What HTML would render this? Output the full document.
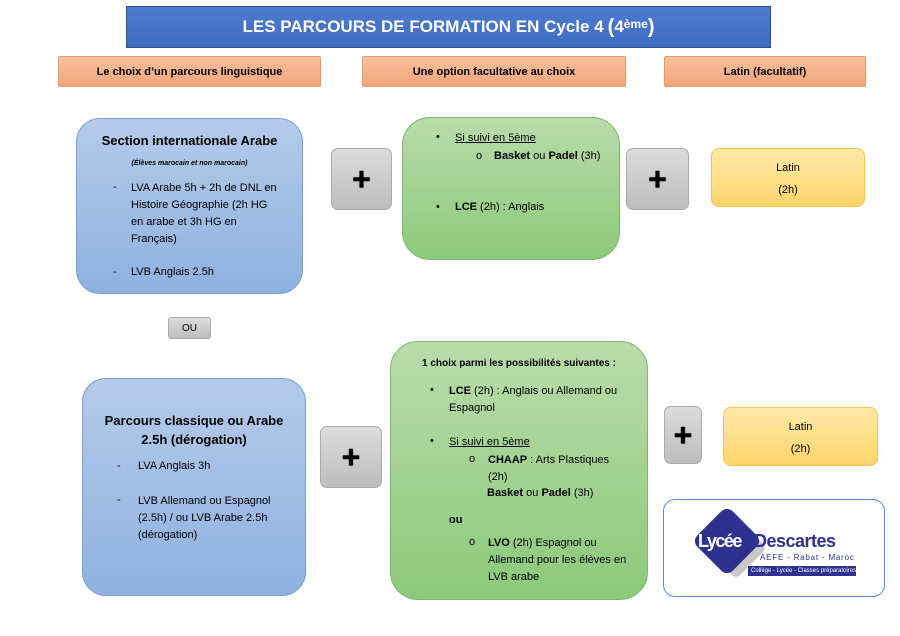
<!DOCTYPE html>
<html><head><meta charset="utf-8"><style>
*{margin:0;padding:0;box-sizing:border-box}
body{width:900px;height:636px;background:#fff;position:relative;overflow:hidden;font-family:"Liberation Sans",sans-serif;color:#000}
.a{position:absolute}
.t{position:absolute;white-space:nowrap;font-size:11px;line-height:14px}
.title{left:126px;top:6px;width:645px;height:42px;background:linear-gradient(#4d7bd0,#3f6cc0);border:1px solid #2f528f;color:#fff;font-weight:bold;font-size:17px;display:flex;align-items:center;justify-content:center}
.or{top:56px;height:31px;background:linear-gradient(#f8c09a,#f4a57c);border:1px solid #e89a6b;font-size:11px;font-weight:bold;display:flex;align-items:center;justify-content:center;border-radius:2px}
.blue{background:linear-gradient(#b4cbea,#8fb1e0);border:1px solid #7ba0d4;border-radius:24px}
.green{background:linear-gradient(#b9dcab,#8cc97a);border:1px solid #7ab86a;border-radius:28px}
.plus{background:linear-gradient(#dcdcdc,#bdbdbd);border:1px solid #aaa;border-radius:7px;display:flex;align-items:center;justify-content:center;font-size:32px;font-weight:bold;text-shadow:0 0 1px #000,0 0 1px #000}
.yel{background:linear-gradient(#ffe9a8,#ffd56a);border:1px solid #f0c458;border-radius:8px;font-size:11px;text-align:center}
b{font-weight:bold}
u{text-decoration:underline}
</style></head><body>
<div class="a title">LES PARCOURS DE FORMATION EN Cycle 4 <span style="font-size:20px;margin-left:4px">(</span>4<sup style="font-size:12px;position:relative;top:-3px">ème</sup><span style="font-size:20px">)</span></div>
<div class="a or" style="left:58px;width:263px">Le choix d’un parcours linguistique</div>
<div class="a or" style="left:362px;width:264px">Une option facultative au choix</div>
<div class="a or" style="left:664px;width:202px">Latin (facultatif)</div>

<div class="a blue" style="left:76px;top:118px;width:227px;height:176px"></div>
<div class="t" style="left:76px;width:227px;text-align:center;top:134px;font-size:13px;font-weight:bold">Section internationale Arabe</div>
<div class="t" style="left:76px;width:227px;text-align:center;top:157px;font-size:7px;font-style:italic;font-weight:bold">(Élèves marocain et non marocain)</div>
<div class="t" style="left:113px;top:180px">-</div>
<div class="t" style="left:131px;top:180px;line-height:17px">LVA Arabe 5h + 2h de DNL en<br>Histoire Géographie (2h HG<br>en arabe et 3h HG en<br>Français)</div>
<div class="t" style="left:113px;top:265px">-</div>
<div class="t" style="left:131px;top:265px">LVB Anglais 2.5h</div>

<div class="a plus" style="left:331px;top:148px;width:61px;height:62px">+</div>
<div class="a green" style="left:402px;top:117px;width:218px;height:143px"></div>
<div class="t" style="left:436px;top:130px">•</div>
<div class="t" style="left:455px;top:131px"><u>Si suivi en 5ème</u></div>
<div class="t" style="left:476px;top:149px">o</div>
<div class="t" style="left:494px;top:149px"><b>Basket</b> ou <b>Padel</b> (3h)</div>
<div class="t" style="left:436px;top:200px">•</div>
<div class="t" style="left:455px;top:200px"><b>LCE</b> (2h) : Anglais</div>
<div class="a plus" style="left:626px;top:148px;width:63px;height:62px">+</div>
<div class="a yel" style="left:711px;top:148px;width:154px;height:59px;padding-top:8px;line-height:22px">Latin<br>(2h)</div>

<div class="a plus" style="left:168px;top:317px;width:43px;height:22px;font-size:10px;font-weight:normal;border-radius:3px;text-shadow:none">OU</div>

<div class="a blue" style="left:82px;top:378px;width:224px;height:218px"></div>
<div class="t" style="left:82px;width:224px;text-align:center;top:411px;font-size:13px;font-weight:bold;line-height:19px">Parcours classique ou Arabe<br>2.5h (dérogation)</div>
<div class="t" style="left:117px;top:459px">-</div>
<div class="t" style="left:138px;top:459px">LVA Anglais 3h</div>
<div class="t" style="left:117px;top:493px">-</div>
<div class="t" style="left:138px;top:493px;line-height:17px">LVB Allemand ou Espagnol<br>(2.5h) / ou LVB Arabe 2.5h<br>(dérogation)</div>

<div class="a plus" style="left:320px;top:426px;width:62px;height:62px">+</div>
<div class="a green" style="left:390px;top:341px;width:258px;height:259px"></div>
<div class="t" style="left:422px;top:357px;font-size:10px;font-weight:bold">1 choix parmi les possibilités suivantes :</div>
<div class="t" style="left:430px;top:383px">•</div>
<div class="t" style="left:449px;top:383px;line-height:17px"><b>LCE</b> (2h) : Anglais ou Allemand ou<br>Espagnol</div>
<div class="t" style="left:430px;top:434px">•</div>
<div class="t" style="left:449px;top:435px"><u>Si suivi en 5ème</u></div>
<div class="t" style="left:469px;top:452px">o</div>
<div class="t" style="left:488px;top:452px;line-height:17px"><b>CHAAP</b> : Arts Plastiques<br>(2h)</div>
<div class="t" style="left:487px;top:486px"><b>Basket</b> ou <b>Padel</b> (3h)</div>
<div class="t" style="left:449px;top:513px;font-weight:bold">ou</div>
<div class="t" style="left:469px;top:535px">o</div>
<div class="t" style="left:488px;top:535px;line-height:17px"><b>LVO</b> (2h) Espagnol ou<br>Allemand pour les élèves en<br>LVB arabe</div>

<div class="a plus" style="left:664px;top:406px;width:38px;height:58px">+</div>
<div class="a yel" style="left:723px;top:407px;width:155px;height:59px;padding-top:8px;line-height:22px">Latin<br>(2h)</div>

<div class="a" style="left:663px;top:499px;width:222px;height:98px;border:1px solid #5b8fd0;border-radius:12px;background:#fff;overflow:hidden">
  <div class="a" style="left:50px;top:26px;width:44px;height:44px;background:#c8c8c8;transform:rotate(45deg);border-radius:6px"></div>
  <div class="a" style="left:38px;top:16px;width:50px;height:50px;background:#2e3190;transform:rotate(45deg);border-radius:8px"></div>
  <div class="t" style="left:34px;top:30px;font-size:18px;color:#fff;font-weight:bold;line-height:22px;letter-spacing:-1.5px">Lycée</div>
  <div class="t" style="left:90px;top:30px;font-size:18px;color:#2e3190;font-weight:bold;line-height:22px;letter-spacing:-0.5px">Descartes</div>
  <div class="t" style="left:96px;top:53px;font-size:8px;color:#2e3190;line-height:10px;letter-spacing:0.8px">AEFE - Rabat - Maroc</div>
  <div class="a" style="left:84px;top:66px;width:108px;height:10px;background:#2e3190"></div>
  <div class="t" style="left:87px;top:66px;font-size:6px;color:#fff;line-height:10px">Collège - Lycée - Classes préparatoires</div>
</div>
</body></html>
